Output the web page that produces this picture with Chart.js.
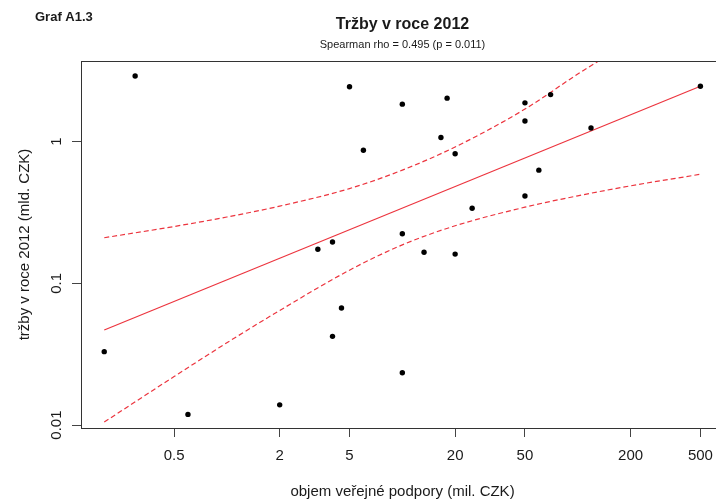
<!DOCTYPE html>
<html><head><meta charset="utf-8">
<script src="https://cdn.jsdelivr.net/npm/chart.js@4.4.0/dist/chart.umd.min.js"></script>
<style>
html,body{margin:0;padding:0;background:#fff;overflow:hidden;}
#wrap{position:relative;width:716px;height:499px;overflow:hidden;background:#fff;}
canvas{display:block;}
</style></head><body>
<div id="wrap"><canvas id="c" width="740" height="499"></canvas></div>
<script>
// public support (mil. CZK) and revenue 2012 (bn CZK) per firm
const supportX = [0.3, 5, 0.2, 0.6, 2, 3.3, 4, 4.5, 4, 10, 13.3, 20, 10, 10, 18, 50, 70, 50, 6, 16.6, 20, 119, 500, 60, 50, 25];
const revenueY = [2.91, 2.44, 0.033, 0.0119, 0.0139, 0.174, 0.196, 0.067, 0.0423, 0.224, 0.166, 0.161, 0.0234, 1.84, 2.03, 1.88, 2.15, 1.40, 0.87, 1.07, 0.823, 1.25, 2.46, 0.63, 0.414, 0.339];
// regression line (log-log) end points
const fitX = [0.2, 500];
const fitY = [0.0469, 2.46];
// confidence band
const bandX = [0.2, 0.5, 1, 2, 5, 10, 20, 50, 100, 200, 500];
const upperY = [0.21, 0.252, 0.294, 0.351, 0.467, 0.63, 0.918, 1.70, 3.0, 5.1, 10.3];
const lowerY = [0.0105, 0.022, 0.0381, 0.0644, 0.124, 0.187, 0.255, 0.345, 0.415, 0.488, 0.589];
// axis ticks
const xTicks = [0.5, 2, 5, 20, 50, 200, 500];
const yTicks = [0.01, 0.1, 1];
const xRange = [0.1474, 681.6];
const yRange = [0.00954, 3.711];

const FONT = '"Liberation Sans", Arial, Helvetica, sans-serif';
const RED = 'rgb(236,52,62)';

const rPlugin = {
  id: 'rstyle',
  afterDraw(chart) {
    const {ctx, chartArea: a, scales: {x, y}} = chart;
    ctx.save();
    ctx.strokeStyle = '#333';
    ctx.lineWidth = 1;
    ctx.strokeRect(Math.round(a.left) + 0.5, Math.round(a.top) + 0.5, Math.round(a.right - a.left), Math.round(a.bottom - a.top));
    ctx.fillStyle = '#1a1a1a';
    ctx.font = '15px ' + FONT;
    ctx.textAlign = 'center';
    ctx.textBaseline = 'middle';
    xTicks.forEach(v => ctx.fillText(String(v), x.getPixelForValue(v), 456));
    yTicks.forEach(v => {
      ctx.save();
      ctx.translate(57, y.getPixelForValue(v));
      ctx.rotate(-Math.PI / 2);
      ctx.fillText(String(v), 0, 0);
      ctx.restore();
    });
    const cx = (a.left + a.right) / 2;
    ctx.fillText('objem veřejné podpory (mil. CZK)', cx, 492);
    ctx.save();
    ctx.translate(25, (a.top + a.bottom) / 2);
    ctx.rotate(-Math.PI / 2);
    ctx.fillText('tržby v roce 2012 (mld. CZK)', 0, 0);
    ctx.restore();
    ctx.font = 'bold 16px ' + FONT;
    ctx.fillText('Tržby v roce 2012', cx, 25);
    ctx.font = '11px ' + FONT;
    ctx.fillText('Spearman rho = 0.495 (p = 0.011)', cx, 45);
    ctx.font = 'bold 13px ' + FONT;
    ctx.textAlign = 'left';
    ctx.fillText('Graf A1.3', 35, 17);
    ctx.restore();
  }
};

const lineBase = {showLine: true, pointRadius: 0, borderColor: RED, backgroundColor: RED, borderWidth: 1.2, fill: false};

new Chart(document.getElementById('c'), {
  type: 'scatter',
  data: {
    datasets: [
      {label: 'firmy', data: supportX.map((v, i) => ({x: v, y: revenueY[i]})), backgroundColor: '#000', borderColor: '#000', pointRadius: 2.7, pointBorderWidth: 0, showLine: false},
      Object.assign({label: 'fit', data: fitX.map((v, i) => ({x: v, y: fitY[i]}))}, lineBase),
      Object.assign({label: 'upper', data: bandX.map((v, i) => ({x: v, y: upperY[i]})), borderDash: [5, 3], cubicInterpolationMode: 'monotone'}, lineBase),
      Object.assign({label: 'lower', data: bandX.map((v, i) => ({x: v, y: lowerY[i]})), borderDash: [5, 3], cubicInterpolationMode: 'monotone'}, lineBase)
    ]
  },
  options: {
    responsive: false,
    animation: false,
    devicePixelRatio: 1,
    layout: {padding: {left: 72, top: 61, right: 16, bottom: 62}},
    plugins: {legend: {display: false}, tooltip: {enabled: false}, title: {display: false}},
    scales: {
      x: {
        type: 'logarithmic', min: xRange[0], max: xRange[1],
        afterBuildTicks: s => { s.ticks = xTicks.map(v => ({value: v})); },
        ticks: {display: false},
        grid: {drawOnChartArea: false, drawTicks: true, tickLength: 9, color: '#444', lineWidth: 1},
        border: {display: false}
      },
      y: {
        type: 'logarithmic', min: yRange[0], max: yRange[1],
        afterBuildTicks: s => { s.ticks = yTicks.map(v => ({value: v})); },
        ticks: {display: false},
        grid: {drawOnChartArea: false, drawTicks: true, tickLength: 9, color: '#444', lineWidth: 1},
        border: {display: false}
      }
    }
  },
  plugins: [rPlugin]
});
</script>
</body></html>
